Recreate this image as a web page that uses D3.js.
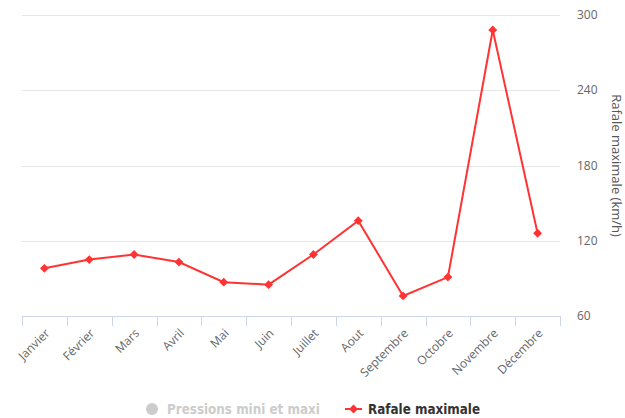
<html>
    <head>
        <meta charset="utf-8">
        <style>
            body { margin: 0; background: #fff; }
            .chart text { font-family: "Open Sans", sans-serif; }
            .legend text { font-family: "Liberation Sans Narrow", "DejaVu Sans Condensed", sans-serif; font-weight: bold; font-size: 13.3px; }
        </style>
    </head>
    <body>
        <svg class="chart" width="625" height="418"></svg>
        <script src="https://d3js.org/d3.v7.min.js"></script>
        <script>
            var months = ["Janvier", "Février", "Mars", "Avril", "Mai", "Juin", "Juillet", "Aout", "Septembre", "Octobre", "Novembre", "Décembre"];
            var rafale = [98, 105, 109, 103, 87, 85, 109, 136, 76, 91, 288, 126];
            var yTicks = [60, 120, 180, 240, 300];

            var plotLeft = 22, plotRight = 560, plotTop = 15, plotBottom = 316;

            var chart = d3.select('.chart');

            var x = d3.scaleBand().domain(months).range([plotLeft, plotRight]);
            var y = d3.scaleLinear().domain([60, 300]).range([plotBottom, plotTop]);

            // grid lines
            chart.append('g').selectAll('line')
                .data(yTicks.slice(1))
                .enter().append('line')
                .attr('x1', plotLeft).attr('x2', plotRight)
                .attr('y1', function(d) { return Math.round(y(d)) + 0.5; })
                .attr('y2', function(d) { return Math.round(y(d)) + 0.5; })
                .attr('stroke', '#e6e6e6');

            // y axis labels (right side)
            chart.append('g').selectAll('text')
                .data(yTicks)
                .enter().append('text')
                .attr('x', 577)
                .attr('y', function(d) { return y(d); })
                .attr('dy', '0.35em')
                .attr('fill', '#666')
                .style('font-size', '12px')
                .text(function(d) { return d; });

            chart.append('text')
                .attr('transform', 'translate(612,' + ((plotTop + plotBottom) / 2) + ') rotate(90)')
                .attr('text-anchor', 'middle')
                .attr('fill', '#555')
                .style('font-size', '13px')
                .text('Rafale maximale (km/h)');

            // x axis
            var xAxis = chart.append('g');
            xAxis.append('line')
                .attr('x1', plotLeft).attr('x2', plotRight)
                .attr('y1', plotBottom + 0.5).attr('y2', plotBottom + 0.5)
                .attr('stroke', '#ccd6eb');
            var edges = months.map(function(m) { return x(m); }).concat([plotRight]);
            xAxis.selectAll('.tick')
                .data(edges)
                .enter().append('line')
                .attr('x1', function(d) { return Math.round(d) + 0.5; })
                .attr('x2', function(d) { return Math.round(d) + 0.5; })
                .attr('y1', plotBottom).attr('y2', plotBottom + 10)
                .attr('stroke', '#ccd6eb');
            xAxis.selectAll('text')
                .data(months)
                .enter().append('text')
                .attr('transform', function(d) { return 'translate(' + (x(d) + x.bandwidth() / 2 + 3) + ',' + (plotBottom + 15) + ') rotate(-45)'; })
                .attr('text-anchor', 'end')
                .attr('dy', '0.35em')
                .attr('fill', '#666')
                .style('font-size', '12px')
                .text(function(d) { return d; });

            // series
            var pts = months.map(function(m, i) { return { m: m, v: rafale[i] }; });
            var line = d3.line()
                .x(function(d) { return x(d.m) + x.bandwidth() / 2; })
                .y(function(d) { return y(d.v); });

            chart.append('path')
                .datum(pts)
                .attr('d', line)
                .attr('fill', 'none')
                .attr('stroke', '#f33')
                .attr('stroke-width', 2);

            var diamond = d3.symbol().type(d3.symbolDiamond2).size(50);
            chart.append('g').selectAll('path')
                .data(pts)
                .enter().append('path')
                .attr('d', diamond)
                .attr('transform', function(d) { return 'translate(' + (x(d.m) + x.bandwidth() / 2) + ',' + y(d.v) + ')'; })
                .attr('fill', '#f33');

            // legend
            var legend = chart.append('g').attr('class', 'legend');
            legend.append('circle').attr('cx', 152).attr('cy', 409).attr('r', 6).attr('fill', '#ccc');
            legend.append('text').attr('x', 167).attr('y', 409).attr('dy', '0.35em')
                .attr('fill', '#ccc').text('Pressions mini et maxi');
            legend.append('line').attr('x1', 345).attr('x2', 362).attr('y1', 409).attr('y2', 409)
                .attr('stroke', '#f33').attr('stroke-width', 2);
            legend.append('path').attr('d', diamond).attr('transform', 'translate(353.5,409)').attr('fill', '#f33');
            legend.append('text').attr('x', 368).attr('y', 409).attr('dy', '0.35em')
                .attr('fill', '#333').text('Rafale maximale');
        </script>
    </body>
</html>
